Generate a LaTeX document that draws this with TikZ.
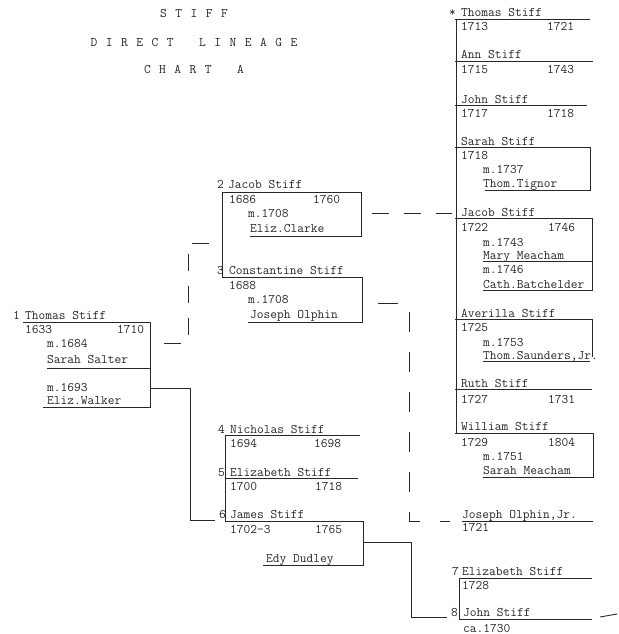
\documentclass[tikz,border=0pt]{standalone}
\definecolor{typeink}{RGB}{40,40,40}
\newcommand{\typefont}{\ttfamily\fontsize{13.1}{15}\selectfont}
\newcommand{\headfont}{\typefont\spaceskip 8.5pt\relax}

\begin{document}
\begin{tikzpicture}[
    x=1pt, y=-1pt,
    every node/.style={font=\typefont, text=typeink, inner sep=0pt, anchor=base west},
    heading/.style={anchor=base, font=\headfont},
    rule/.style={draw=typeink, line width=0.9pt},
    link/.style={rule, dash pattern=on 17pt off 15pt}
]
\useasboundingbox (0,0) rectangle (618,634);

% =============================================
% TITLE
% =============================================
\node[heading] (ttl1) at (194,18) {S T I F F};
\node[heading] (ttl2) at (194,47) {D I R E C T\ \ \ L I N E A G E};
\node[heading] (ttl3) at (194,74) {C H A R T\ \ \ A};

% =============================================
% 1: Thomas Stiff
% =============================================
\node (n1) at (13,319) {1};
\node (p1) at (25,319) {Thomas Stiff};
\node (p1b) at (25,333) {1633};
\node (p1d) at (117,333) {1710};
\node (p1m1) at (47,347) {m.1684};
\node (p1s1) at (47,363) {Sarah Salter};
\node (p1m2) at (47,391) {m.1693};
\node (p1s2) at (47,404) {Eliz.Walker};
\draw[rule] (23,322) -- (150,322) -- (150,407) -- (43,407);
\draw[rule] (47,368) -- (150,368);

% =============================================
% 2 and 3: Jacob, Constantine
% =============================================
\node (n2) at (217,188) {2};
\node (p2) at (228,188) {Jacob Stiff};
\node (p2b) at (229,203) {1686};
\node (p2d) at (313,203) {1760};
\node (p2m) at (248,217) {m.1708};
\node (p2s) at (250,232) {Eliz.Clarke};
\draw[rule] (222,277) -- (222,192) -- (361,192) -- (361,236) -- (250,236);

\node (n3) at (217,274) {3};
\node (p3) at (229,274) {Constantine Stiff};
\node (p3b) at (229,289) {1688};
\node (p3m) at (248,303) {m.1708};
\node (p3s) at (250,318) {Joseph Olphin};
\draw[rule] (222,277) -- (362,277) -- (362,322) -- (248,322);

% =============================================
% 4, 5 and 6: Nicholas, Elizabeth, James
% =============================================
\node (n4) at (218,433) {4};
\node (p4) at (230,433) {Nicholas Stiff};
\node (p4b) at (230,447) {1694};
\node (p4d) at (314,447) {1698};
\draw[rule] (225,435) -- (360,435);

\node (n5) at (218,476) {5};
\node (p5) at (230,476) {Elizabeth Stiff};
\node (p5b) at (230,490) {1700};
\node (p5d) at (315,490) {1718};
\draw[rule] (225,478) -- (358,478);

\node (n6) at (219,518) {6};
\node (p6) at (230,518) {James Stiff};
\node (p6b) at (230,533) {1702-3};
\node (p6d) at (315,533) {1765};
\node (p6s) at (266,562) {Edy Dudley};
\draw[rule] (225,521) -- (363,521) -- (363,565) -- (263,565);
\draw[rule] (225,435) -- (225,522);

% =============================================
% Children of Jacob (right column)
% =============================================
\node (r1s) at (449,17) {*};
\node (r1) at (461,17) {Thomas Stiff};
\node (r1b) at (461,31) {1713};
\node (r1d) at (547,31) {1721};
\draw[rule] (455,19) -- (590,19);

\node (r2) at (461,59) {Ann Stiff};
\node (r2b) at (461,74) {1715};
\node (r2d) at (547,74) {1743};
\draw[rule] (455,61) -- (593,61);

\node (r3) at (461,103) {John Stiff};
\node (r3b) at (461,117) {1717};
\node (r3d) at (547,117) {1718};
\draw[rule] (455,105) -- (587,105);

\node (r4) at (461,145) {Sarah Stiff};
\node (r4b) at (461,159) {1718};
\node (r4m) at (483,173) {m.1737};
\node (r4s) at (483,187) {Thom.Tignor};
\draw[rule] (455,147) -- (590,147) -- (590,190) -- (485,190);

\node (r5) at (461,216) {Jacob Stiff};
\node (r5b) at (461,231) {1722};
\node (r5d) at (548,231) {1746};
\node (r5m1) at (483,246) {m.1743};
\node (r5s1) at (483,259) {Mary Meacham};
\node (r5m2) at (483,273) {m.1746};
\node (r5s2) at (483,288) {Cath.Batchelder};
\draw[rule] (455,218) -- (592,218) -- (592,290) -- (483,290);
\draw[rule] (483,261) -- (592,261);

\node (r6) at (461,317) {Averilla Stiff};
\node (r6b) at (461,331) {1725};
\node (r6m) at (483,346) {m.1753};
\node (r6s) at (483,359) {Thom.Saunders,Jr.};
\draw[rule] (455,319) -- (592,319) -- (592,357);
\draw[rule] (483,361) -- (590,361);

\node (r7) at (461,387) {Ruth Stiff};
\node (r7b) at (461,403) {1727};
\node (r7d) at (548,403) {1731};
\draw[rule] (455,389) -- (592,389);

\node (r8) at (461,430) {William Stiff};
\node (r8b) at (461,446) {1729};
\node (r8d) at (548,446) {1804};
\node (r8m) at (483,460) {m.1751};
\node (r8s) at (483,474) {Sarah Meacham};
\draw[rule] (455,433) -- (593,433) -- (593,477) -- (483,477);
\draw[rule] (456,19) -- (456,433);

% =============================================
% Child of Constantine, children of James
% =============================================
\node (q1) at (462,518) {Joseph Olphin,Jr.};
\node (q1b) at (462,531) {1721};
\draw[rule] (462,521) -- (593,521);

\node (n7) at (452,575) {7};
\node (q7) at (462,575) {Elizabeth Stiff};
\node (q7b) at (462,589) {1728};
\draw[rule] (459,578) -- (592,578);

\node (n8) at (451,616) {8};
\node (q8) at (463,616) {John Stiff};
\node (q8b) at (463,632) {ca.1730};
\draw[rule] (459,619) -- (592,619);
\draw[rule] (600,617) -- (617,614);
\draw[rule] (459,578) -- (459,619);

% =============================================
% Connectors
% =============================================
\coordinate (c1a) at (150,343);
\coordinate (c23) at (222,243);
\draw[link, dash phase=18pt] (c1a) -- ++(38,0) |- (c23);

\coordinate (c1b) at (150,388);
\coordinate (c46) at (215,520);
\draw[rule] (c1b) -- ++(40,0) |- (c46);

\coordinate (c2) at (361,213);
\coordinate (c5) at (452,213);
\draw[link, dash phase=21pt] (c2) -- (c5);

\coordinate (c3) at (362,303);
\coordinate (cq1) at (450,521);
\draw[link, dash pattern=on 20pt off 20pt, dash phase=24pt] (c3) -- ++(47,0) |- (cq1);

\coordinate (c6) at (363,542);
\coordinate (c78) at (447,617);
\draw[rule] (c6) -- ++(48,0) |- (c78);

\end{tikzpicture}
\end{document}
